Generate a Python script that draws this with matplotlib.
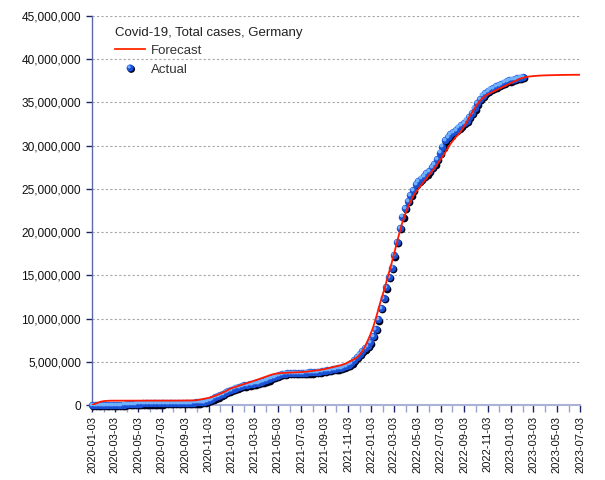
import numpy as np
import pandas as pd
import matplotlib
matplotlib.use("Agg")
import matplotlib.pyplot as plt
import matplotlib.transforms as mtransforms
from matplotlib.ticker import FuncFormatter, FixedLocator
from matplotlib.lines import Line2D
from matplotlib.patches import Circle
from matplotlib.legend_handler import HandlerBase

plt.rcParams['font.family'] = ['Liberation Sans', 'DejaVu Sans']

# ---------------- data ----------------
legend_title = "Covid-19, Total cases, Germany"
series_names = ["Forecast", "Actual"]
start_date = "2020-01-03"
end_date = "2023-07-03"

# weekly cumulative cases (millions), starting 2020-01-03
actual_mln = [
    0, 0, 0, 0, 0, 0, 0, 0, 0.0001,
    0.0007, 0.0037, 0.020, 0.050, 0.091, 0.118, 0.138, 0.154,
    0.163, 0.170, 0.175, 0.179, 0.182, 0.185, 0.187, 0.190,
    0.194, 0.196, 0.199, 0.201, 0.204, 0.209, 0.215, 0.222,
    0.230, 0.240, 0.248, 0.256, 0.267, 0.280, 0.294, 0.310,
    0.341, 0.392, 0.480, 0.597, 0.727, 0.880, 1.006, 1.150,
    1.300, 1.470, 1.620, 1.760, 1.900, 2.020, 2.120, 2.200,
    2.270, 2.330, 2.380, 2.430, 2.490, 2.550, 2.630, 2.730,
    2.850, 2.960, 3.100, 3.250, 3.390, 3.510, 3.590, 3.640,
    3.680, 3.700, 3.710, 3.720, 3.725, 3.730, 3.738, 3.750,
    3.762, 3.780, 3.800, 3.830, 3.870, 3.920, 3.980, 4.040,
    4.090, 4.140, 4.190, 4.240, 4.300, 4.380, 4.500, 4.680,
    4.900, 5.200, 5.550, 5.900, 6.250, 6.550, 6.850, 7.250,
    8.0, 8.8, 9.9, 11.2, 12.4, 13.6, 14.8, 15.9,
    17.3, 18.9, 20.5, 21.8, 22.8, 23.6, 24.3, 24.9,
    25.6, 25.9, 26.2, 26.5, 26.8, 27.1, 27.5, 27.9,
    28.5, 29.2, 29.9, 30.6, 31.0, 31.3, 31.6, 31.85,
    32.1, 32.35, 32.6, 32.9, 33.3, 33.8, 34.3, 34.9,
    35.4, 35.8, 36.1, 36.35, 36.55, 36.7, 36.85, 37.0,
    37.15, 37.3, 37.45, 37.55, 37.65, 37.72, 37.8, 37.88,
    37.95,
]

forecast_mln = [
    0.0, 0.12, 0.25, 0.36, 0.43, 0.47, 0.49, 0.5,
    0.5, 0.5, 0.5, 0.5, 0.5, 0.5, 0.5, 0.5,
    0.5, 0.5, 0.5, 0.5, 0.5, 0.5, 0.5, 0.5,
    0.5, 0.5, 0.5, 0.5, 0.51, 0.51, 0.51, 0.51,
    0.51, 0.51, 0.52, 0.52, 0.52, 0.52, 0.53, 0.55,
    0.6, 0.66, 0.72, 0.78, 0.85, 0.95, 1.06, 1.18,
    1.31, 1.45, 1.6, 1.76, 1.93, 2.03, 2.13, 2.23,
    2.33, 2.43, 2.53, 2.63, 2.74, 2.85, 2.96, 3.07,
    3.18, 3.29, 3.4, 3.5, 3.58, 3.64, 3.67, 3.7,
    3.72, 3.74, 3.75, 3.76, 3.77, 3.78, 3.8, 3.82,
    3.85, 3.88, 3.92, 3.96, 4.0, 4.05, 4.1, 4.16,
    4.23, 4.3, 4.37, 4.44, 4.52, 4.6, 4.7, 4.82,
    4.98, 5.15, 5.3, 5.5, 5.8, 6.2, 6.7, 7.4,
    8.1, 8.9, 9.9, 11.0, 12.1, 13.1, 14.2, 15.3,
    16.4, 17.6, 18.8, 20.0, 21.1, 22.0, 22.8, 23.5,
    24.1, 24.6, 25.0, 25.4, 25.8, 26.2, 26.6, 27.0,
    27.4, 27.8, 28.3, 28.7, 29.2, 29.7, 30.2, 30.6,
    31.0, 31.3, 31.7, 32.2, 32.7, 33.3, 33.8, 34.3,
    34.8, 35.2, 35.5, 35.75, 35.95, 36.1, 36.25, 36.4,
    36.55, 36.7, 36.85, 37.0, 37.15, 37.3, 37.45, 37.6,
    37.75, 37.85, 37.92, 37.98, 38.02, 38.05, 38.08, 38.1,
    38.12, 38.13, 38.14, 38.15, 38.15, 38.16, 38.17, 38.18,
    38.18, 38.19, 38.19, 38.2, 38.2, 38.2, 38.2,
]

x_tick_labels = [
    "2020-01-03", "2020-03-03", "2020-05-03", "2020-07-03", "2020-09-03", "2020-11-03",
    "2021-01-03", "2021-03-03", "2021-05-03", "2021-07-03", "2021-09-03", "2021-11-03",
    "2022-01-03", "2022-03-03", "2022-05-03", "2022-07-03", "2022-09-03", "2022-11-03",
    "2023-01-03", "2023-03-03", "2023-05-03", "2023-07-03",
]
x_minor_ticks = [
    "2020-02-03", "2020-04-03", "2020-06-03", "2020-08-03", "2020-10-03", "2020-12-03",
    "2021-02-03", "2021-04-03", "2021-06-03", "2021-08-03", "2021-10-03", "2021-12-03",
    "2022-02-03", "2022-04-03", "2022-06-03", "2022-08-03", "2022-10-03", "2022-12-03",
    "2023-02-03", "2023-04-03", "2023-06-03",
]
y_ticks = [0, 5_000_000, 10_000_000, 15_000_000, 20_000_000, 25_000_000,
           30_000_000, 35_000_000, 40_000_000, 45_000_000]

# ---------------- derived ----------------
actual_dates = pd.date_range(start_date, periods=len(actual_mln), freq="7D")
forecast_dates = list(pd.date_range(start_date, periods=len(forecast_mln), freq="7D")) + [pd.Timestamp(end_date)]
actual_vals = np.array(actual_mln) * 1e6
forecast_vals = np.array(forecast_mln + [forecast_mln[-1]]) * 1e6

# ---------------- figure ----------------
W, H, DPI = 605, 480, 100
fig = plt.figure(figsize=(W / DPI, H / DPI), dpi=DPI)
ax = fig.add_axes([92 / W, 75 / H, 488 / W, 389 / H])

ax.set_xlim(pd.Timestamp(start_date), pd.Timestamp(end_date))
ax.set_ylim(y_ticks[0], y_ticks[-1])

# grid
ax.set_axisbelow(True)
ax.yaxis.grid(True, linestyle=(0, (2, 2)), color="#a6a6a6", linewidth=0.8)
ax.xaxis.grid(False)

# actual: sphere-like markers (shadow, body, highlight)
px = 1.0 / DPI
tr_shadow = ax.transData + mtransforms.ScaledTranslation(1.2 * px, -1.2 * px, fig.dpi_scale_trans)
tr_high = ax.transData + mtransforms.ScaledTranslation(-1.1 * px, 1.1 * px, fig.dpi_scale_trans)
ax.scatter(actual_dates, actual_vals, s=31, color="#000018", linewidths=0,
           transform=tr_shadow, zorder=3, clip_on=False)
ax.scatter(actual_dates, actual_vals, s=29, color="#1a50d4", linewidths=0,
           zorder=4, clip_on=False)
ax.scatter(actual_dates, actual_vals, s=8, color="#6fb0ff", linewidths=0,
           transform=tr_high, zorder=5, clip_on=False)

# forecast line
ax.plot(forecast_dates, forecast_vals, color="#ff1a00", linewidth=1.3, zorder=6)

# axes styling
for s in ["top", "right"]:
    ax.spines[s].set_visible(False)
ax.spines["left"].set_color("#5d6aa8")
ax.spines["left"].set_linewidth(1.0)
ax.spines["bottom"].set_color("#aab3d6")
ax.spines["bottom"].set_linewidth(1.5)

ax.yaxis.set_major_locator(FixedLocator(y_ticks))
ax.yaxis.set_major_formatter(FuncFormatter(lambda v, p: f"{int(round(v)):,}"))
ax.tick_params(axis="y", direction="out", length=4, width=1, color="#1c2466",
               labelsize=8.6, pad=4, labelcolor="#111111")

major_x = [pd.Timestamp(d) for d in x_tick_labels]
minor_x = [pd.Timestamp(d) for d in x_minor_ticks]
ax.set_xticks(major_x)
ax.set_xticklabels(x_tick_labels, rotation=90, va="top", ha="center")
ax.set_xticks(minor_x, minor=True)
ax.tick_params(axis="x", which="major", direction="out", length=5, width=1,
               color="#1c2466", labelsize=8, pad=3, labelcolor="#111111")
ax.tick_params(axis="x", which="minor", direction="out", length=5, width=1,
               color="#9aa3cc")


# legend with sphere handle
class SphereHandler(HandlerBase):
    def create_artists(self, legend, orig_handle, xdescent, ydescent,
                       width, height, fontsize, trans):
        cx = width / 2 - xdescent
        cy = height / 2 - ydescent
        r = 2.7
        a = Circle((cx + 0.8, cy - 0.8), r, facecolor="#000018", lw=0, transform=trans)
        b = Circle((cx, cy), r * 0.95, facecolor="#1a50d4", lw=0, transform=trans)
        c = Circle((cx - 0.8, cy + 0.8), r * 0.42, facecolor="#6fb0ff", lw=0, transform=trans)
        return [a, b, c]


h_fore = Line2D([], [], color="#ff2a00", linewidth=1.3)
h_act = Circle((0, 0), 1)
leg = fig.legend([h_fore, h_act], series_names, title=legend_title,
                 loc="upper left", bbox_to_anchor=(115 / W, 1 - 27 / H),
                 bbox_transform=fig.transFigure, frameon=False,
                 fontsize=9.5, title_fontsize=9.5, handlelength=2.3, handletextpad=0.4,
                 borderpad=0, borderaxespad=0, labelspacing=0.5,
                 alignment="left", handler_map={Circle: SphereHandler()})
leg._legend_box.sep = 4
for t in leg.get_texts():
    t.set_color("#333333")
leg.get_title().set_color("#222222")

fig.savefig("out.png", dpi=DPI)
